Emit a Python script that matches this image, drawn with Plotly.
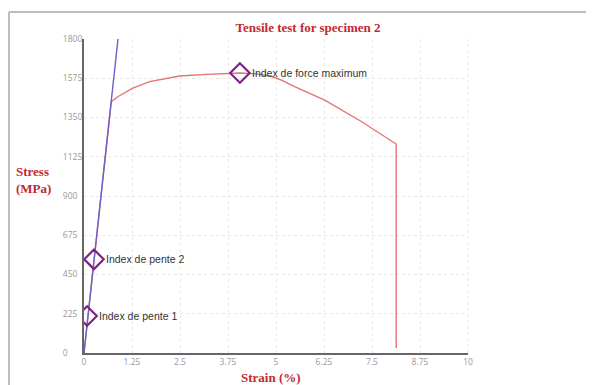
import plotly.graph_objects as go

# ---- data ----
curve_strain = [0, 0.71, 0.9, 1.1, 1.27, 1.71, 2.49, 3.2, 3.8, 4.06, 4.5, 4.85, 5.1, 5.5, 6.27, 7.2, 8.13, 8.13]
curve_stress = [0, 1441, 1472, 1498, 1519, 1556, 1588, 1597, 1602, 1605, 1600, 1588, 1568, 1525, 1450, 1330, 1198, 29]

slope_strain = [0, 0.885]
slope_stress = [0, 1800]

index_strain = [0.08, 0.26, 4.06]
index_stress = [212, 537, 1605]
index_labels = ["Index de pente 1", "Index de pente 2", "Index de force maximum"]

x_ticks = [0, 1.25, 2.5, 3.75, 5, 6.25, 7.5, 8.75, 10]
x_ticklabels = ["0", "1.25", "2.5", "3.75", "5", "6.25", "7.5", "8.75", "10"]
y_ticks = [0, 225, 450, 675, 900, 1125, 1350, 1575, 1800]
y_ticklabels = ["0", "225", "450", "675", "900", "1125", "1350", "1575", "1800"]

title_text = "Tensile test for specimen 2"
x_title = "Strain (%)"
y_title = "Stress<br>(MPa)"

RED = "#c3282f"
OFF = 8  # browser body margin
W, H = 594 - OFF, 385 - OFF
L, R, T, B = 84 - OFF, 594 - 468, 39 - OFF, 385 - 353
pw, ph = W - L - R, H - T - B


def px(x):  # reference pixel x -> paper
    return (x - OFF - L) / pw


def py(y):  # reference pixel y -> paper
    return (H - B - (y - OFF)) / ph


fig = go.Figure()
fig.add_trace(go.Scatter(x=curve_strain, y=curve_stress, mode="lines",
                         line=dict(color="#e57373", width=1.4), showlegend=False))
fig.add_trace(go.Scatter(x=slope_strain, y=slope_stress, mode="lines",
                         line=dict(color="#6a5fcf", width=1.4), showlegend=False))
fig.add_trace(go.Scatter(x=index_strain, y=index_stress, mode="markers",
                         marker=dict(symbol="diamond-open", size=15, color="#7b2482",
                                     line=dict(width=2.2, color="#7b2482")),
                         showlegend=False))

for xs, ys, t in zip(index_strain, index_stress, index_labels):
    fig.add_annotation(x=xs, y=ys, text=t, showarrow=False, xanchor="left", yanchor="middle",
                       xshift=10, font=dict(family="Liberation Sans", size=10.5, color="#333"))

fig.update_layout(
    width=W, height=H,
    margin=dict(l=L, r=R, t=T, b=B),
    paper_bgcolor="white", plot_bgcolor="white",
    title=dict(text=f"<b>{title_text}</b>", x=(308 - OFF) / W, xanchor="center", xref="container",
               y=1 - (27 - OFF) / H, yanchor="middle", yref="container",
               font=dict(family="Liberation Serif", size=13, color=RED)),
)

# left-aligned y tick labels: pad with figure spaces (digit width)
y_ticktext = [s + "\u2007" * (4 - len(s)) for s in y_ticklabels]

fig.update_xaxes(range=[0, 10], tickvals=x_ticks, ticktext=x_ticklabels,
                 showgrid=True, gridcolor="#e8e8e8", griddash="dot", gridwidth=1,
                 showline=True, linecolor="#666", linewidth=2, zeroline=False,
                 ticks="", tickfont=dict(family="Open Sans", size=8.5, color="#999"))
fig.update_yaxes(range=[0, 1800], tickvals=y_ticks, ticktext=y_ticktext,
                 showgrid=True, gridcolor="#e8e8e8", griddash="dot", gridwidth=1,
                 showline=True, linecolor="#666", linewidth=2, zeroline=False,
                 ticks="", ticklabelstandoff=-2,
                 tickfont=dict(family="Open Sans", size=8.5, color="#999"))

# right grid boundary
fig.add_shape(type="line", xref="paper", yref="paper", x0=1, x1=1, y0=0, y1=1,
              line=dict(color="#e8e8e8", width=1, dash="dot"))

# axis titles
fig.add_annotation(xref="paper", yref="paper", x=px(271), y=py(377),
                   text=f"<b>{x_title}</b>", showarrow=False, xanchor="center", yanchor="middle",
                   font=dict(family="Liberation Serif", size=13, color=RED))
fig.add_annotation(xref="paper", yref="paper", x=px(33), y=py(180),
                   text=f"<b>{y_title}</b>", showarrow=False, xanchor="center", yanchor="middle",
                   align="left", font=dict(family="Liberation Serif", size=13, color=RED))

# screenshot frame (left and top border)
fig.add_shape(type="line", xref="paper", yref="paper", x0=px(9), x1=px(9), y0=py(12), y1=py(400),
              line=dict(color="#a8a8a8", width=1.5))
fig.add_shape(type="line", xref="paper", yref="paper", x0=px(9), x1=px(600), y0=py(12), y1=py(12),
              line=dict(color="#a8a8a8", width=1.5))

fig.write_html("out.html")
